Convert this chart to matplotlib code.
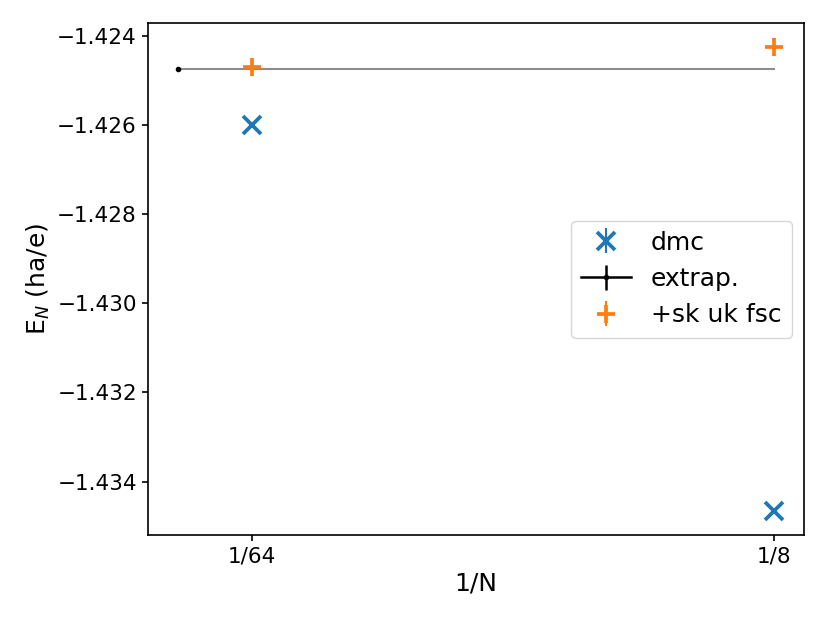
import matplotlib
matplotlib.use("Agg")
import matplotlib.pyplot as plt

# data
dmc_x = [1/64, 1/8]
dmc_y = [-1.42599, -1.434656]
dmc_err = [0.00002, 0.00002]
fsc_x = [1/64, 1/8]
fsc_y = [-1.424709, -1.424253]
fsc_err = [0.00002, 0.00002]
extrap_x = [0.0]
extrap_y = [-1.424754]
extrap_err = [0.00002]
xticks = [1/64, 1/8]
xticklabels = ["1/64", "1/8"]

fig = plt.figure(figsize=(8.3, 6.23), dpi=100)
ax = fig.add_axes([148/830, (623-535)/623, 656/830, 512/623])

ax.errorbar(dmc_x, dmc_y, yerr=dmc_err, marker='x', ls='none', ms=13, mew=2.7,
            color='#1f77b4', label='dmc')
ax.errorbar(extrap_x, extrap_y, yerr=extrap_err, fmt='k.-', ms=6, lw=1.8, label='extrap.')
ax.plot([extrap_x[0], dmc_x[-1]], [extrap_y[0], extrap_y[0]], color='k', alpha=0.45, lw=1.5, zorder=1)
ax.errorbar(fsc_x, fsc_y, yerr=fsc_err, marker='+', ls='none', ms=13, mew=2.7,
            color='#ff7f0e', label='+sk uk fsc')

ax.set_xticks(xticks)
ax.set_xticklabels(xticklabels)
ax.tick_params(labelsize=15.5, width=1.2, length=4.5)
for s in ax.spines.values():
    s.set_linewidth(1.2)
ax.set_xlabel('1/N', fontsize=18)
ax.set_ylabel('E$_N$ (ha/e)', fontsize=18)
ax.legend(loc='center right', fontsize=18)

fig.savefig('out.png', dpi=100)
